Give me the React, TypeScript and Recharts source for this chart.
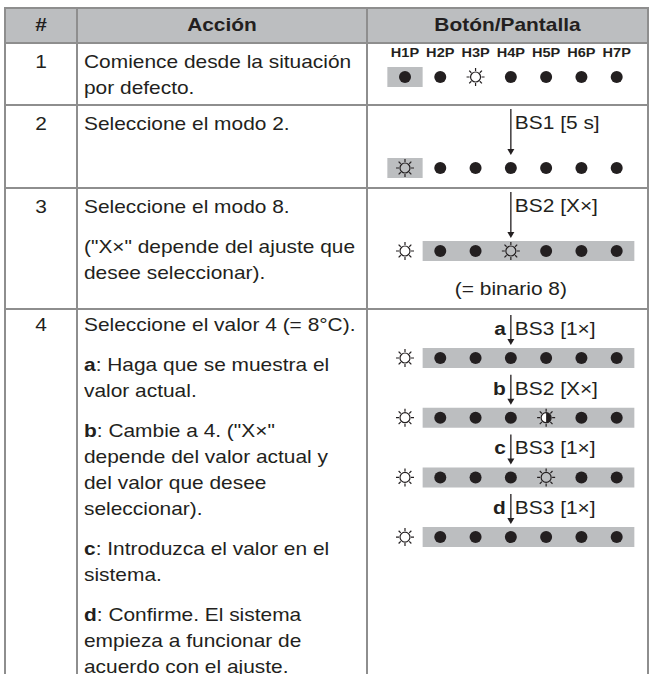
import { ScatterChart, Scatter, XAxis, YAxis, ReferenceArea, LabelList } from 'recharts';

const INK = '#231f20';
const GREY = '#bcbec0';
const RULE = '#8e8e8e';
const FONT = '"Liberation Sans", Arial, sans-serif';

// LED names along the display
const LED_NAMES = ['H1P', 'H2P', 'H3P', 'H4P', 'H5P', 'H6P', 'H7P'];

// LED states: on = filled dot, blink = sun, half = half-dark sun
const STRIP_DEFAULT = ['on', 'on', 'blink', 'on', 'on', 'on', 'on'];
const STRIP_MODE2 = ['blink', 'on', 'on', 'on', 'on', 'on', 'on'];
const STRIP_MODE8 = ['blink', 'on', 'on', 'blink', 'on', 'on', 'on'];
const STRIP_A = ['blink', 'on', 'on', 'on', 'on', 'on', 'on'];
const STRIP_B = ['blink', 'on', 'on', 'on', 'half', 'on', 'on'];
const STRIP_C = ['blink', 'on', 'on', 'on', 'blink', 'on', 'on'];
const STRIP_D = ['blink', 'on', 'on', 'on', 'on', 'on', 'on'];

// grey band (first LED, last LED) per strip
const BAND_SINGLE = [0, 0];
const BAND_VALUE = [1, 6];

const STEP_NUMS = ['1', '2', '3', '4'];
const HEADERS = ['#', 'Acción', 'Botón/Pantalla'];

const ACTIONS = [
  [{ lines: ['Comience desde la situación', 'por defecto.'] }],
  [{ lines: ['Seleccione el modo 2.'] }],
  [{ lines: ['Seleccione el modo 8.'] }, { lines: ['("X×" depende del ajuste que', 'desee seleccionar).'] }],
  [
    { lines: ['Seleccione el valor 4 (= 8°C).'] },
    { lead: 'a', lines: [': Haga que se muestra el', 'valor actual.'] },
    { lead: 'b', lines: [': Cambie a 4. ("X×"', 'depende del valor actual y', 'del valor que desee', 'seleccionar).'] },
    { lead: 'c', lines: [': Introduzca el valor en el', 'sistema.'] },
    { lead: 'd', lines: [': Confirme. El sistema', 'empieza a funcionar de', 'acuerdo con el ajuste.'] },
  ],
];

// button presses drawn above the strips
const STEPS_ROW2 = [{ strip: 0, lead: '', text: 'BS1 [5 s]', note: '' }];
const STEPS_ROW3 = [{ strip: 0, lead: '', text: 'BS2 [X×]', note: '(= binario 8)' }];
const STEPS_ROW4 = [
  { strip: 0, lead: 'a', text: 'BS3 [1×]', note: '' },
  { strip: 1, lead: 'b', text: 'BS2 [X×]', note: '' },
  { strip: 2, lead: 'c', text: 'BS3 [1×]', note: '' },
  { strip: 3, lead: 'd', text: 'BS3 [1×]', note: '' },
];

// layout
const TABLE_L = 5;
const TABLE_R = 648;
const COL_X = [5, 77, 367, 648];
const HEAD_TOP = 8;
const ROW_TOPS = [43, 105, 188, 309, 674];
const TEXT_PAD = [6, 6, 6, 3];
const PARA_GAP = 14;
const PX = 59.7; // pixels per strip

const DISPLAYS = [
  { strips: [STRIP_DEFAULT], bands: [BAND_SINGLE], steps: [], names: true, firstLed: 34, gap: 0 },
  { strips: [STRIP_MODE2], bands: [BAND_SINGLE], steps: STEPS_ROW2, names: false, firstLed: 63, gap: 46 },
  { strips: [STRIP_MODE8], bands: [BAND_VALUE], steps: STEPS_ROW3, names: false, firstLed: 63, gap: 46 },
  {
    strips: [STRIP_A, STRIP_B, STRIP_C, STRIP_D],
    bands: [BAND_VALUE, BAND_VALUE, BAND_VALUE, BAND_VALUE],
    steps: STEPS_ROW4,
    names: false,
    firstLed: 49,
    gap: 30,
  },
];

function SText({ x, y, children, anchor = 'start', bold = false, size = 19 }: any) {
  // text is slightly wide in the source, so stretch it horizontally
  return (
    <g transform={`translate(${x},${y + size * 0.36}) scale(1.1,1)`}>
      <text x={0} y={0} textAnchor={anchor} fontSize={size} fontWeight={bold ? 'bold' : 'normal'} fontFamily={FONT} fill={INK}>
        {children}
      </text>
    </g>
  );
}

function Led(props: any) {
  const { cx, cy, payload } = props;
  if (cx == null || cy == null) return null;
  if (payload.state === 'on') return <circle cx={cx} cy={cy} r={6} fill={INK} />;
  const rays = [0, 45, 90, 135, 180, 225, 270, 315].map((a) => {
    const r = (a * Math.PI) / 180;
    return (
      <line
        key={a}
        x1={cx + Math.cos(r) * 6}
        y1={cy + Math.sin(r) * 6}
        x2={cx + Math.cos(r) * 9}
        y2={cy + Math.sin(r) * 9}
        stroke={INK}
        strokeWidth={1.2}
      />
    );
  });
  const half = payload.state === 'half';
  return (
    <g>
      {rays}
      <circle cx={cx} cy={cy} r={5} fill={half ? '#fff' : 'none'} stroke={INK} strokeWidth={1.2} />
      {half && <path d={`M${cx},${cy - 5} A5,5 0 0,1 ${cx},${cy + 5} Z`} fill={INK} />}
    </g>
  );
}

function StepMark(props: any) {
  const { cx, cy, payload, gap } = props;
  if (cx == null || cy == null) return null;
  const labelY = cy - gap;
  const top = labelY - 13;
  const tip = cy - 13;
  return (
    <g>
      <line x1={cx} y1={top} x2={cx} y2={tip - 4} stroke={INK} strokeWidth={1.3} />
      <path d={`M${cx - 3.5},${tip - 6} L${cx + 3.5},${tip - 6} L${cx},${tip} Z`} fill={INK} />
      {payload.lead && (
        <SText x={cx - 5} y={labelY} anchor="end" bold>
          {payload.lead}
        </SText>
      )}
      <SText x={cx + 4} y={labelY}>
        {payload.text}
      </SText>
      {payload.note && (
        <SText x={cx} y={cy + 37} anchor="middle">
          {payload.note}
        </SText>
      )}
    </g>
  );
}

function NameLabel(props: any) {
  const { viewBox, value } = props;
  if (!viewBox) return null;
  const cx = viewBox.x + viewBox.width / 2;
  const cy = viewBox.y + viewBox.height / 2;
  return (
    <g transform={`translate(${cx},${cy - 20}) scale(1.12,1)`}>
      <text x={0} y={0} textAnchor="middle" fontSize={13} fontWeight="bold" fontFamily={FONT} fill={INK}>
        {value}
      </text>
    </g>
  );
}

function Display({ index }: { index: number }) {
  const d = DISPLAYS[index];
  const top = ROW_TOPS[index];
  const height = ROW_TOPS[index + 1] - top;
  const lo = -d.firstLed / PX;
  const hi = lo + height / PX;
  const leds = d.strips.flatMap((strip, s) =>
    strip.map((state, i) => ({ x: i, y: s, state, name: LED_NAMES[i] }))
  );
  const steps = d.steps.map((st) => ({ ...st, x: 3, y: st.strip }));
  return (
    <div style={{ position: 'absolute', left: COL_X[2], top, width: COL_X[3] - COL_X[2], height }}>
      <ScatterChart
        width={COL_X[3] - COL_X[2]}
        height={height}
        margin={{ top: 0, right: 13.65, bottom: 0, left: 20.35 }}
      >
        <XAxis type="number" dataKey="x" domain={[-0.5, 6.5]} allowDataOverflow hide />
        <YAxis type="number" dataKey="y" domain={[lo, hi]} allowDataOverflow reversed hide />
        {d.bands.map((b, s) => (
          <ReferenceArea
            key={s}
            x1={b[0] - 0.5}
            x2={b[1] + 0.5}
            y1={s - 10 / PX}
            y2={s + 10 / PX}
            fill={GREY}
            fillOpacity={1}
            stroke="none"
          />
        ))}
        <Scatter data={leds} shape={Led} isAnimationActive={false}>
          {d.names && <LabelList dataKey="name" content={NameLabel} />}
        </Scatter>
        {steps.length > 0 && (
          <Scatter
            data={steps}
            shape={(p: any) => <StepMark {...p} gap={d.gap} />}
            isAnimationActive={false}
          />
        )}
      </ScatterChart>
    </div>
  );
}

const textStyle: any = {
  fontSize: 19,
  lineHeight: '26px',
  whiteSpace: 'nowrap',
  color: INK,
};

export default function App() {
  const hLines = [HEAD_TOP, ...ROW_TOPS.slice(0, 4)];
  return (
    <div
      style={{
        position: 'absolute',
        left: 0,
        top: 0,
        width: 652,
        height: 674,
        overflow: 'hidden',
        background: '#fff',
        fontFamily: FONT,
      }}
    >
      {/* header band */}
      <div
        style={{
          position: 'absolute',
          left: TABLE_L,
          top: HEAD_TOP,
          width: TABLE_R - TABLE_L,
          height: ROW_TOPS[0] - HEAD_TOP,
          background: GREY,
        }}
      />
      {HEADERS.map((h, i) => (
        <div
          key={h}
          style={{
            ...textStyle,
            position: 'absolute',
            left: COL_X[i],
            width: COL_X[i + 1] - COL_X[i],
            top: HEAD_TOP + 4,
            textAlign: 'center',
            fontWeight: 'bold',
            transform: 'scaleX(1.1)',
          }}
        >
          {h}
        </div>
      ))}

      {/* action column */}
      {STEP_NUMS.map((n, r) => (
        <div
          key={n}
          style={{
            ...textStyle,
            position: 'absolute',
            left: COL_X[0],
            width: COL_X[1] - COL_X[0],
            top: ROW_TOPS[r] + TEXT_PAD[r],
            textAlign: 'center',
            transform: 'scaleX(1.1)',
          }}
        >
          {n}
        </div>
      ))}
      {ACTIONS.map((paras, r) => (
        <div
          key={r}
          style={{
            ...textStyle,
            position: 'absolute',
            left: COL_X[1] + 7,
            top: ROW_TOPS[r] + TEXT_PAD[r],
            transform: 'scaleX(1.1)',
            transformOrigin: 'left top',
          }}
        >
          {paras.map((p: any, k) => (
            <div key={k} style={{ marginTop: k === 0 ? 0 : PARA_GAP }}>
              {p.lines.map((ln: string, j: number) => (
                <div key={j}>
                  {j === 0 && p.lead && <b>{p.lead}</b>}
                  {ln}
                </div>
              ))}
            </div>
          ))}
        </div>
      ))}

      {/* display column */}
      {DISPLAYS.map((_, i) => (
        <Display key={i} index={i} />
      ))}

      {/* table rules */}
      {hLines.map((y) => (
        <div
          key={'h' + y}
          style={{ position: 'absolute', left: TABLE_L - 1, top: y - 1, width: TABLE_R - TABLE_L + 2, height: 2, background: RULE }}
        />
      ))}
      {COL_X.map((x) => (
        <div
          key={'v' + x}
          style={{ position: 'absolute', left: x - 1, top: HEAD_TOP - 1, width: 2, height: 674, background: RULE }}
        />
      ))}
    </div>
  );
}
